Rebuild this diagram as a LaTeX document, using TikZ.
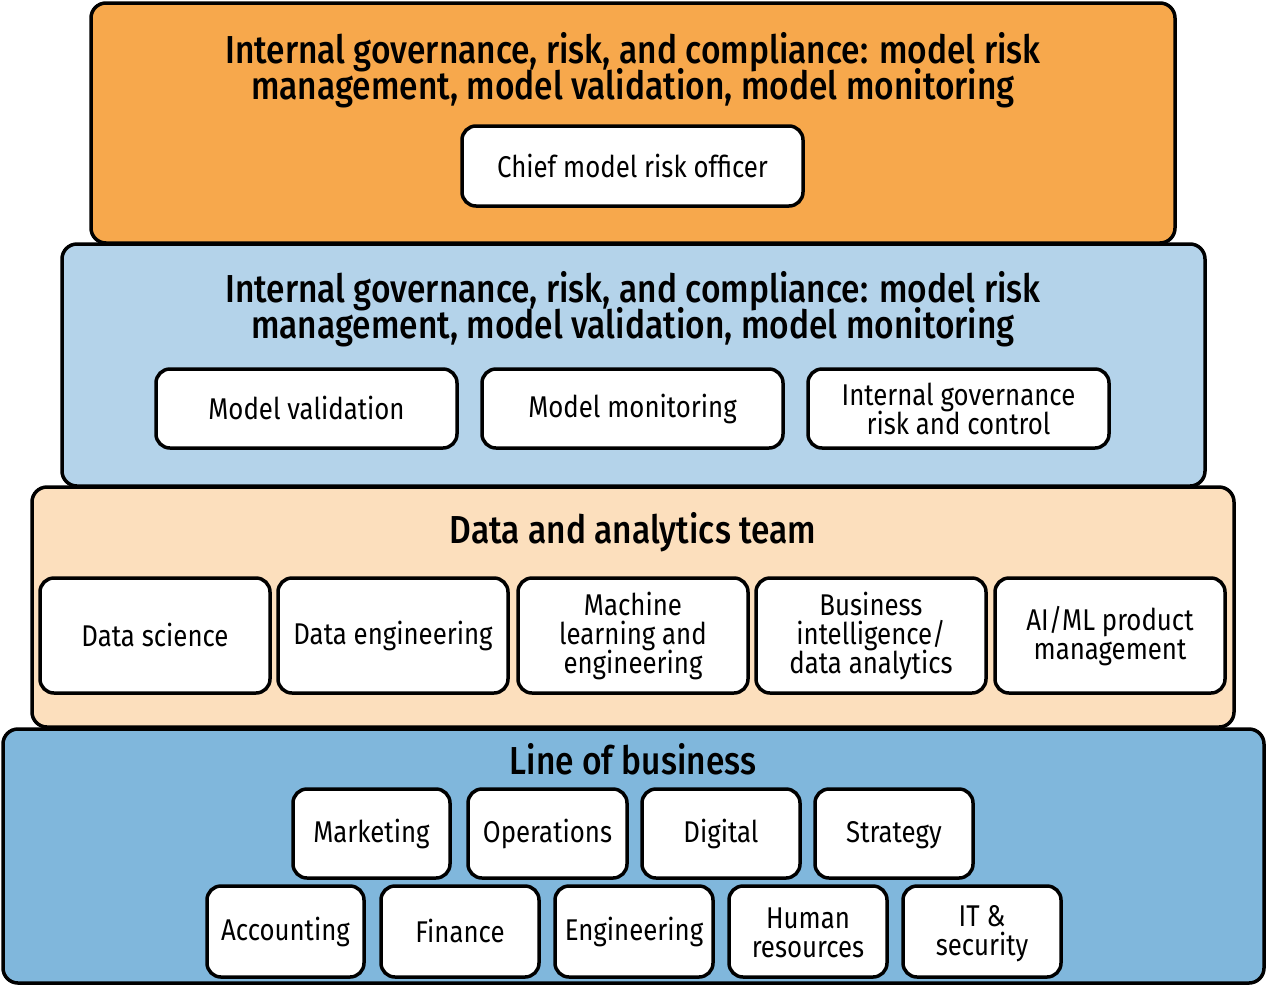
\documentclass[tikz,border=0pt]{standalone}
\usepackage{fontspec}
\setmainfont{Fira Sans}[FakeStretch=0.86]
\newfontfamily\titlefont{Fira Sans Medium}[FakeStretch=0.86]
\usetikzlibrary{positioning}
\definecolor{orangeL}{HTML}{F7A84C}
\definecolor{blueL}{HTML}{B4D3EA}
\definecolor{peachL}{HTML}{FCDFBD}
\definecolor{blueD}{HTML}{80B7DC}
\newcommand{\mystrut}{\rule[-0.09em]{0pt}{0.92em}}
\newcommand{\tightlines}{\setlength{\lineskiplimit}{-50pt}\setlength{\lineskip}{0pt}}
\tikzset{
  layer/.style={draw=black, line width=3.5pt, rounded corners=15pt, inner sep=0pt},
  unit/.style={draw=black, fill=white, line width=3.5pt, rounded corners=14pt, inner sep=0pt, align=center,
    font=\fontsize{30}{29}\selectfont\tightlines},
  ttl/.style={align=center, inner sep=0pt, font=\titlefont\fontsize{39}{36}\selectfont\tightlines},
}
\newcommand{\mybox}[6]{% name, x1,y1,x2,y2, text
  \node[unit, minimum width=#4-#2, minimum height=#5-#3] (#1) at ({(#2+#4)/2},{(#3+#5)/2}) {\mystrut #6\mystrut};}
\begin{document}
\begin{tikzpicture}[x=1pt,y=-1pt]
\useasboundingbox (0,0) rectangle (1266,986);
% layers (bottom first, so upper ones overlap)
\draw[layer, fill=blueD] (3,729) rectangle (1264,983);
\draw[layer, fill=peachL] (32,487) rectangle (1234,727);
\draw[layer, fill=blueL] (62,244) rectangle (1205,486);
\draw[layer, fill=orangeL] (91,3) rectangle (1175,243);
% titles
\node[ttl] (t1) at (633,70) {Internal governance, risk, and compliance: model risk\\management, model validation, model monitoring};
\node[ttl] (t2) at (633,309) {Internal governance, risk, and compliance: model risk\\management, model validation, model monitoring};
\node[ttl] (t3) at (633,532) {Data and analytics team};
\node[ttl] (t4) at (633,759) {Line of business};
% boxes
\mybox{cmro}{462}{126}{803}{206}{Chief model risk officer}
\mybox{mv}{156}{369}{457}{448}{Model validation}
\mybox{mm}{482}{369}{783}{448}{Model monitoring}
\mybox{igrc}{808}{369}{1109}{448}{Internal governance\\risk and control}
\mybox{ds}{40}{578}{270}{693}{Data science}
\mybox{de}{278}{578}{508}{693}{Data engineering}
\mybox{mle}{518}{578}{748}{693}{Machine\\learning and\\engineering}
\mybox{bi}{756}{578}{986}{693}{Business\\intelligence/\\data analytics}
\mybox{aiml}{995}{578}{1225}{693}{AI/ML product\\management}
\mybox{mkt}{293}{789}{450}{878}{Marketing}
\mybox{ops}{468}{789}{627}{878}{Operations}
\mybox{dig}{642}{789}{800}{878}{Digital}
\mybox{str}{815}{789}{973}{878}{Strategy}
\mybox{acc}{207}{886}{364}{977}{Accounting}
\mybox{fin}{381}{886}{539}{977}{Finance}
\mybox{eng}{555}{886}{713}{977}{Engineering}
\mybox{hr}{729}{886}{887}{977}{Human\\resources}
\mybox{it}{903}{886}{1061}{977}{IT \&\\security}
\end{tikzpicture}
\end{document}
